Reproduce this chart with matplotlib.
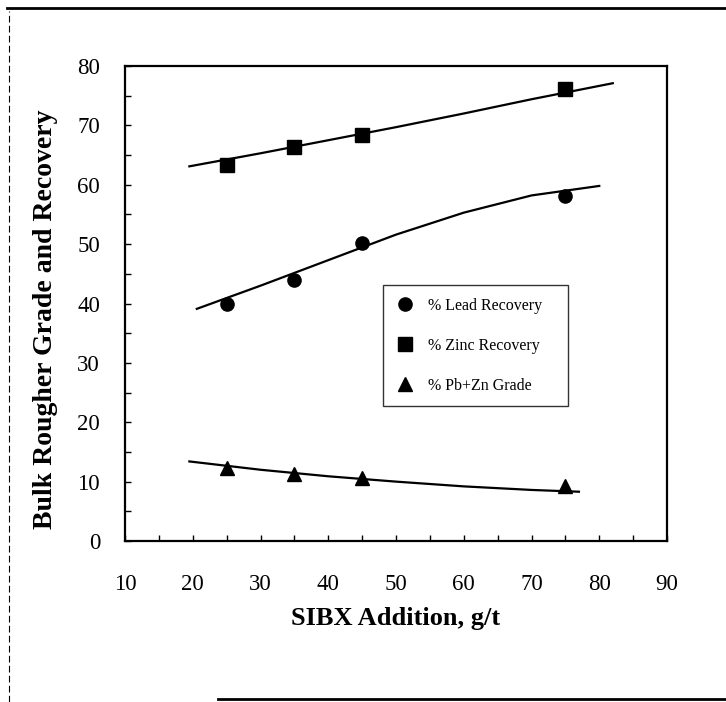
import matplotlib
matplotlib.use("Agg")
import matplotlib.pyplot as plt
from matplotlib.lines import Line2D
from matplotlib.ticker import MultipleLocator

plt.rcParams["font.family"] = ["Liberation Serif", "DejaVu Serif"]

# measured points
sibx = [25, 35, 45, 75]
lead_rec = [40.0, 44.0, 50.2, 58.1]
zinc_rec = [63.4, 66.4, 68.3, 76.1]
grade = [12.3, 11.3, 10.6, 9.3]

# fitted curves
lead_fit_x = [20.6, 30, 40, 50, 60, 70, 80]
lead_fit_y = [39.1, 43.0, 47.3, 51.6, 55.3, 58.2, 59.8]
zinc_fit_x = [19.5, 30, 40, 50, 60, 70, 82]
zinc_fit_y = [63.1, 65.3, 67.5, 69.7, 72.0, 74.4, 77.1]
grade_fit_x = [19.5, 30, 40, 50, 60, 70, 77]
grade_fit_y = [13.4, 12.0, 10.9, 10.0, 9.2, 8.6, 8.3]

labels = ["% Lead Recovery", "% Zinc Recovery", "% Pb+Zn Grade"]

fig = plt.figure(figsize=(7.26, 7.02), dpi=100)
ax = fig.add_axes([125 / 726, 161 / 702, 542 / 726, 475 / 702])

ax.plot(lead_fit_x, lead_fit_y, color="black", lw=1.6)
ax.plot(zinc_fit_x, zinc_fit_y, color="black", lw=1.6)
ax.plot(grade_fit_x, grade_fit_y, color="black", lw=1.6)

h1, = ax.plot(sibx, lead_rec, "o", color="black", ms=9.5, ls="none")
h2, = ax.plot(sibx, zinc_rec, "s", color="black", ms=9.5, ls="none")
h3, = ax.plot(sibx, grade, "^", color="black", ms=9.5, ls="none")

ax.set_xlim(10, 90)
ax.set_ylim(0, 80)
ax.xaxis.set_major_locator(MultipleLocator(10))
ax.xaxis.set_minor_locator(MultipleLocator(5))
ax.yaxis.set_major_locator(MultipleLocator(10))
ax.yaxis.set_minor_locator(MultipleLocator(5))
ax.tick_params(which="both", direction="in", length=4, width=1)
ax.tick_params(axis="x", which="major", pad=24, labelsize=16.5)
ax.tick_params(axis="y", which="major", pad=18, labelsize=16.5)
for s in ax.spines.values():
    s.set_linewidth(1.6)

ax.set_xlabel("SIBX Addition, g/t", fontsize=19, fontweight="bold")
ax.xaxis.set_label_coords(0.5, -0.14)
ax.set_ylabel("Bulk Rougher Grade and Recovery", fontsize=20, fontweight="bold")
ax.yaxis.set_label_coords(-0.124, 0.466)

leg = ax.legend([h1, h2, h3], labels, loc="upper left",
                bbox_to_anchor=(0.476, 0.286, 0.341, 0.253), mode="expand",
                fontsize=11.5, frameon=True, fancybox=False, handletextpad=0.8,
                labelspacing=1.5, borderpad=0.8, handlelength=1.2, borderaxespad=0)
leg.get_frame().set_edgecolor("black")
leg.get_frame().set_linewidth(1.0)

# scan border lines
fig.add_artist(Line2D([0.01, 1.0], [0.988, 0.988], color="black", lw=2))
fig.add_artist(Line2D([0.012, 0.012], [0.0, 0.985], color="black", lw=0.8, ls=(0, (6, 3))))
fig.add_artist(Line2D([0.30, 1.0], [0.004, 0.004], color="black", lw=2))

fig.savefig("out.png", dpi=100)
